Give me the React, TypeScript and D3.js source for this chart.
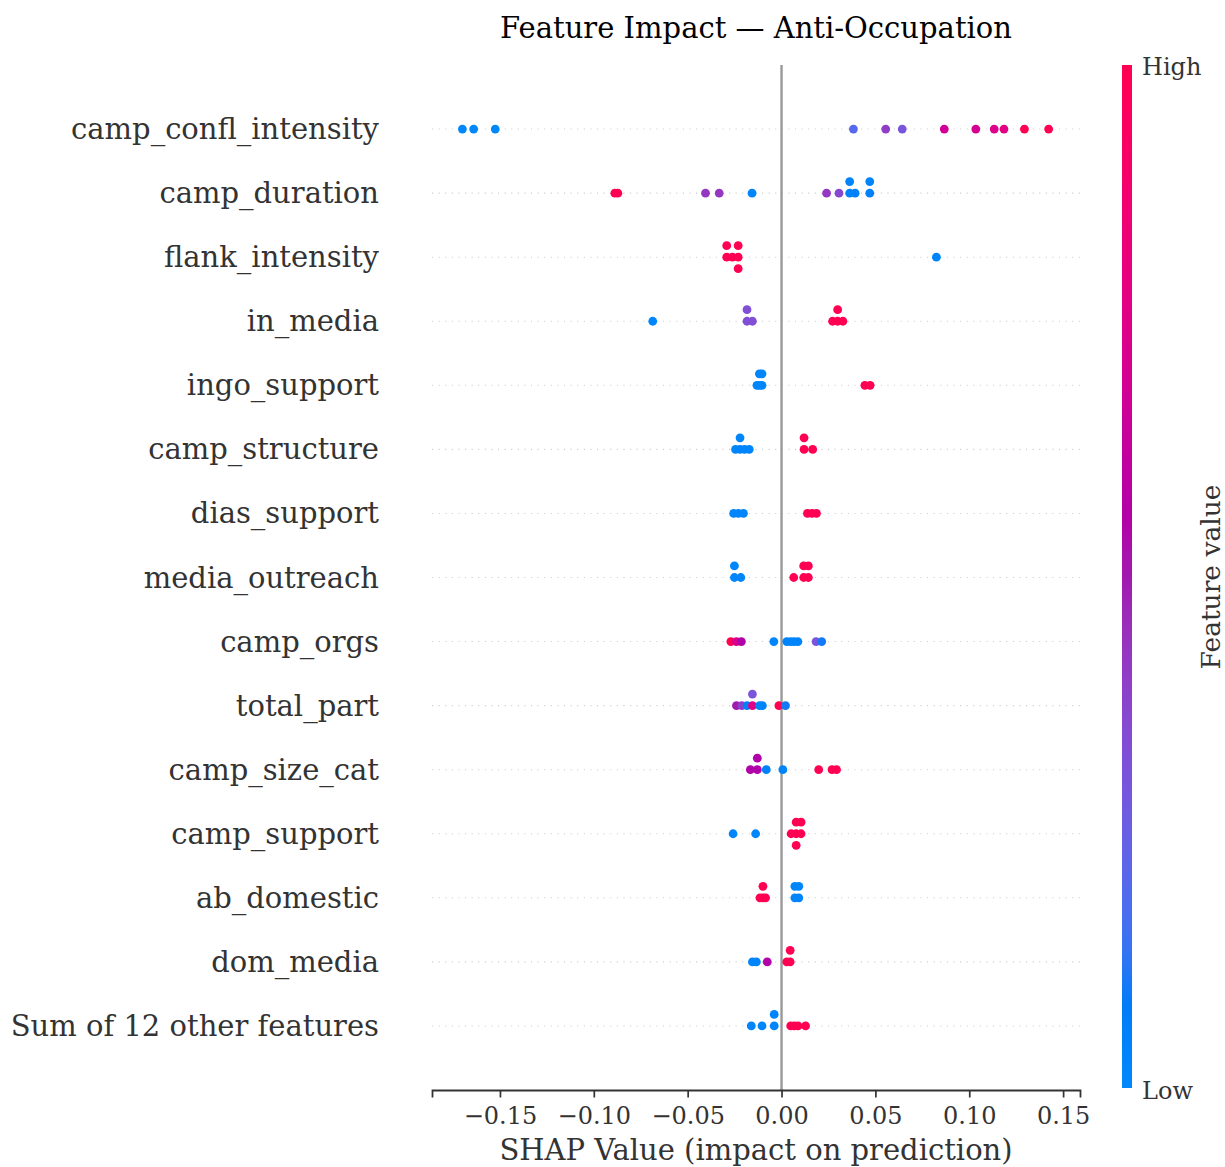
import React, { useEffect, useRef } from 'react';
import * as d3 from 'd3';

const features = [
  'camp_confl_intensity', 'camp_duration', 'flank_intensity', 'in_media', 'ingo_support',
  'camp_structure', 'dias_support', 'media_outreach', 'camp_orgs', 'total_part',
  'camp_size_cat', 'camp_support', 'ab_domestic', 'dom_media', 'Sum of 12 other features',
];

// SHAP values per feature (one dot per sample)
const shapValues: number[][] = [
  [-0.1700, -0.1640, -0.1525, 0.0383, 0.0555, 0.0643, 0.0867, 0.1035, 0.1133, 0.1185, 0.1294, 0.1423],
  [-0.0888, -0.0872, -0.0405, -0.0332, -0.0157, 0.0240, 0.0306, 0.0363, 0.0363, 0.0392, 0.0470, 0.0470],
  [-0.0292, -0.0292, -0.0262, -0.0231, -0.0231, -0.0231, 0.0825],
  [-0.0686, -0.0184, -0.0184, -0.0155, 0.0272, 0.0299, 0.0299, 0.0327],
  [-0.0131, -0.0118, -0.0118, -0.0104, -0.0104, 0.0444, 0.0472],
  [-0.0245, -0.0221, -0.0221, -0.0197, -0.0172, 0.0120, 0.0120, 0.0166],
  [-0.0255, -0.0230, -0.0203, 0.0138, 0.0162, 0.0186],
  [-0.0251, -0.0251, -0.0217, 0.0065, 0.0118, 0.0118, 0.0143, 0.0143],
  [-0.0270, -0.0240, -0.0214, -0.0041, 0.0028, 0.0048, 0.0067, 0.0087, 0.0184, 0.0214],
  [-0.0240, -0.0212, -0.0184, -0.0155, -0.0155, -0.0117, -0.0102, -0.0014, 0.0021],
  [-0.0166, -0.0129, -0.0129, -0.0081, 0.0007, 0.0198, 0.0269, 0.0293],
  [-0.0258, -0.0138, 0.0051, 0.0078, 0.0078, 0.0078, 0.0104, 0.0104],
  [-0.0115, -0.0099, -0.0099, -0.0085, 0.0071, 0.0071, 0.0092, 0.0092],
  [-0.0155, -0.0134, -0.0076, 0.0028, 0.0046, 0.0046],
  [-0.0161, -0.0104, -0.0039, -0.0039, 0.0049, 0.0068, 0.0088, 0.0128],
];

// normalised feature value (0 = low, 1 = high) for each dot above
const featureValues: number[][] = [
  [0, 0, 0, 0.2, 0.4, 0.3, 0.68, 0.7, 0.74, 0.77, 1, 1],
  [1, 1, 0.42, 0.42, 0.02, 0.42, 0.36, 0.03, 0.03, 0.05, 0.05, 0.03],
  [1, 1, 1, 1, 1, 1, 0.03],
  [0.02, 0.33, 0.33, 0.33, 1, 1, 1, 1],
  [0.02, 0.02, 0.02, 0.02, 0.02, 1, 1],
  [0.02, 0.02, 0.02, 0.02, 0.02, 1, 1, 1],
  [0.02, 0.02, 0.02, 1, 1, 1],
  [0.02, 0.02, 0.02, 1, 1, 1, 1, 1],
  [1, 0.72, 0.55, 0.02, 0.03, 0.03, 0.03, 0.03, 0.3, 0.1],
  [0.5, 0.4, 0.05, 0.75, 0.3, 0.03, 0.03, 1, 0.1],
  [0.55, 0.55, 0.55, 0.05, 0.03, 1, 1, 1],
  [0.02, 0.02, 1, 1, 1, 1, 1, 1],
  [1, 1, 1, 1, 0.02, 0.02, 0.02, 0.02],
  [0.02, 0.02, 0.55, 1, 1, 1],
  [0.02, 0.02, 0.02, 0.02, 1, 1, 1, 1],
];

const xTicks = [-0.15, -0.1, -0.05, 0, 0.05, 0.1, 0.15];

const W = 1225;
const H = 1167;
const FONT = '"DejaVu Serif", serif';
const AXIS_COLOR = '#333333';

// shap's red_blue map, interpolated in LCH
const redBlue = (t: number) => {
  const l = t < 0.5 ? 54 + (40 - 54) * (t / 0.5) : 40 + (54 - 40) * ((t - 0.5) / 0.5);
  const c = 70 + 20 * t;
  const h = (4.6588 + (0.35470565 + 2 * Math.PI - 4.6588) * t) * 180 / Math.PI;
  return d3.hcl(h, c, l).formatHex();
};

// same stacking as shap's beeswarm: quantise x, stack alternately up/down
const swarm = (vals: number[]) => {
  const n = vals.length;
  const nbins = 100;
  const mn = d3.min(vals)!;
  const mx = d3.max(vals)!;
  const quant = vals.map(v => Math.round(nbins * (v - mn) / (mx - mn + 1e-8)));
  const inds = d3.range(n).sort((a, b) => quant[a] - quant[b] || a - b);
  const ys = new Array(n).fill(0);
  let layer = 0;
  let lastBin = -1;
  inds.forEach(i => {
    if (quant[i] !== lastBin) layer = 0;
    ys[i] = Math.ceil(layer / 2) * ((layer % 2) * 2 - 1);
    layer += 1;
    lastBin = quant[i];
  });
  const m = d3.max(ys.map(y => y + 1))!;
  return ys.map(y => y * 0.9 * (0.4 / m));
};

const App: React.FC = () => {
  const svgRef = useRef<SVGSVGElement>(null);

  useEffect(() => {
    document.body.style.margin = '0';
    if (!svgRef.current) return;
    const svg = d3.select(svgRef.current);
    svg.selectAll('*').remove();

    const left = 432, right = 1080, top = 65, bottom = 1090;
    const x = d3.scaleLinear().domain([-0.1862, 0.159]).range([left, right]);
    const n = features.length;
    // row 0 at the top -> y value n-1
    const y = d3.scaleLinear().domain([-1, n]).range([bottom, top]);

    const defs = svg.append('defs');
    const grad = defs.append('linearGradient').attr('id', 'cbar')
      .attr('x1', 0).attr('y1', 1).attr('x2', 0).attr('y2', 0);
    d3.range(0, 1.0001, 0.02).forEach(t => {
      grad.append('stop').attr('offset', t).attr('stop-color', redBlue(t));
    });

    // grid lines
    features.forEach((_, i) => {
      const yy = y(n - 1 - i);
      svg.append('line')
        .attr('x1', left).attr('x2', right).attr('y1', yy).attr('y2', yy)
        .attr('stroke', '#cccccc').attr('stroke-width', 1.1)
        .attr('stroke-dasharray', '1.1 5.5');
    });

    // zero line
    svg.append('line')
      .attr('x1', x(0)).attr('x2', x(0)).attr('y1', top).attr('y2', bottom)
      .attr('stroke', '#999999').attr('stroke-width', 2.4);

    // dots
    const gDots = svg.append('g');
    features.forEach((_, i) => {
      const vals = shapValues[i];
      const offs = swarm(vals);
      vals.forEach((v, j) => {
        gDots.append('circle')
          .attr('cx', x(v))
          .attr('cy', y(n - 1 - i + offs[j]))
          .attr('r', 4.4)
          .attr('fill', redBlue(featureValues[i][j]));
      });
    });

    // y labels
    features.forEach((f, i) => {
      svg.append('text')
        .attr('x', 379).attr('y', y(n - 1 - i))
        .attr('text-anchor', 'end').attr('dominant-baseline', 'central')
        .attr('font-family', FONT).attr('font-size', 29).attr('fill', AXIS_COLOR)
        .text(f);
    });

    // x axis
    const gx = svg.append('g').attr('transform', `translate(0,${bottom})`)
      .call(d3.axisBottom(x).tickValues(xTicks).tickFormat(d3.format('.2f')).tickSize(7.5).tickPadding(9));
    gx.select('.domain').attr('stroke', AXIS_COLOR).attr('stroke-width', 1.8);
    gx.selectAll('.tick line').attr('stroke', AXIS_COLOR).attr('stroke-width', 1.7);
    gx.selectAll('.tick text').attr('font-family', FONT).attr('font-size', 24).attr('fill', AXIS_COLOR);

    svg.append('text')
      .attr('x', (left + right) / 2).attr('y', 1150)
      .attr('text-anchor', 'middle').attr('dominant-baseline', 'central')
      .attr('font-family', FONT).attr('font-size', 29).attr('fill', AXIS_COLOR)
      .text('SHAP Value (impact on prediction)');

    svg.append('text')
      .attr('x', (left + right) / 2).attr('y', 28)
      .attr('text-anchor', 'middle').attr('dominant-baseline', 'central')
      .attr('font-family', FONT).attr('font-size', 29).attr('fill', '#000')
      .text('Feature Impact — Anti-Occupation');

    // colour bar
    svg.append('rect')
      .attr('x', 1122).attr('y', top).attr('width', 10).attr('height', 1023)
      .attr('fill', 'url(#cbar)');
    svg.append('text')
      .attr('x', 1142).attr('y', 67)
      .attr('dominant-baseline', 'central')
      .attr('font-family', FONT).attr('font-size', 24).attr('fill', AXIS_COLOR)
      .text('High');
    svg.append('text')
      .attr('x', 1142).attr('y', 1091)
      .attr('dominant-baseline', 'central')
      .attr('font-family', FONT).attr('font-size', 24).attr('fill', AXIS_COLOR)
      .text('Low');
    svg.append('text')
      .attr('transform', 'translate(1210,577) rotate(-90)')
      .attr('text-anchor', 'middle').attr('dominant-baseline', 'central')
      .attr('font-family', FONT).attr('font-size', 26.5).attr('fill', AXIS_COLOR)
      .text('Feature value');
  }, []);

  return (
    <svg ref={svgRef} width={W} height={H} style={{ display: 'block', background: '#fff' }} />
  );
};

export default App;
